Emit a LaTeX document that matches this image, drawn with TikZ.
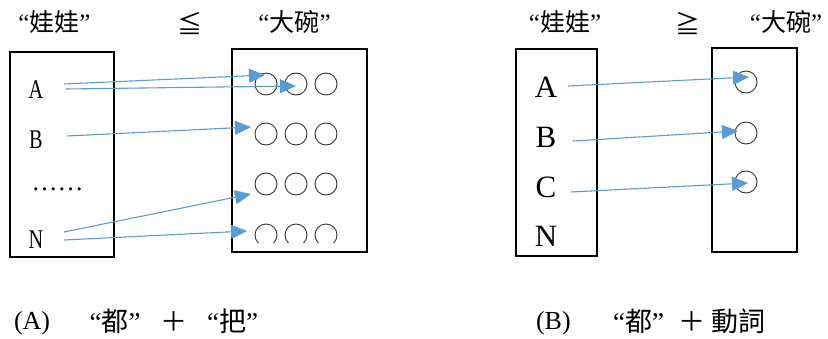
\documentclass[tikz,border=0pt]{standalone}
\usepackage{fontspec}
\setmainfont{Liberation Serif}
\newfontfamily\cjk{Noto Sans CJK TC}
\usetikzlibrary{arrows.meta}
\definecolor{arrowblue}{RGB}{91,155,213}
\begin{document}
\begin{tikzpicture}[x=1pt,y=-1pt,
  box/.style={draw=black,line width=1.1pt},
  bowl/.style={circle,draw=black!80,line width=0.9pt,minimum size=22pt,inner sep=0pt},
  link/.style={arrowblue,line width=1.1pt,-{Triangle[length=16pt,width=14pt]}},
  txt/.style={inner sep=0pt,outer sep=0pt},
  title/.style={txt,font=\fontsize{25}{25}\selectfont},
  letterL/.style={txt,anchor=base,font=\fontsize{27}{27}\selectfont},
  letterR/.style={txt,anchor=base,font=\fontsize{31}{31}\selectfont},
  captext/.style={txt,anchor=base,font=\fontsize{27}{27}\selectfont},
  capmark/.style={txt,anchor=base west,font=\fontsize{26}{26}\selectfont},
]
\useasboundingbox (0,0) rectangle (828,338);
\fill[white] (0,0) rectangle (828,338);

% ---------- (A) ----------
\node[title] (tA1) at (54.5,22) {“{\cjk 娃娃}”};
\node[title] (tA2) at (190,23) {\cjk ≦};
\node[title] (tA3) at (294.5,22) {“{\cjk 大碗}”};

\draw[box] (10,52) rectangle (114,257);
\draw[box] (232,49) rectangle (367,252);

\node[letterL] (LA) at (36,98) {\scalebox{0.75}[1]{A}};
\node[letterL] (LB) at (36,148) {\scalebox{0.75}[1]{B}};
\node[txt,anchor=base,font=\fontsize{26}{26}\selectfont] (Ldots) at (57.5,190) {……};
\node[letterL] (LN) at (36,248) {\scalebox{0.75}[1]{N}};

\foreach \r/\y in {1/84,2/134,3/184}{
  \foreach \c/\x in {1/266,2/296,3/326}{
    \node[bowl] (b\r\c) at (\x,\y) {};
  }
}
\begin{scope}
  \clip (232,0) rectangle (367,242);
  \foreach \c/\x in {1/266,2/296,3/326}{
    \node[bowl] (b4\c) at (\x,235) {};
  }
\end{scope}

\coordinate (a1s) at (64,84);  \coordinate (a1e) at (265,75);
\coordinate (a2s) at (66,89);  \coordinate (a2e) at (296,86);
\coordinate (bs) at (67,136);  \coordinate (be) at (251,127);
\coordinate (n1s) at (64,232); \coordinate (n1e) at (251,194);
\coordinate (n2s) at (64,240); \coordinate (n2e) at (247,231);
\draw[link] (a1s) -- (a1e);
\draw[link] (a2s) -- (a2e);
\draw[link] (bs) -- (be);
\draw[link] (n1s) -- (n1e);
\draw[link] (n2s) -- (n2e);

\node[capmark] (cA0) at (14,329) {(A)};
\node[captext] (cA1) at (115,331) {“{\cjk 都}”};
\node[captext] (cA2) at (173.5,331) {\cjk ＋};
\node[captext] (cA3) at (232.5,331) {“{\cjk 把}”};

% ---------- (B) ----------
\node[title] (tB1) at (565,22) {“{\cjk 娃娃}”};
\node[title] (tB2) at (688,23) {\cjk ≧};
\node[title] (tB3) at (786,22) {“{\cjk 大碗}”};

\draw[box] (516,49) rectangle (597,256);
\draw[box] (712,48) rectangle (797,252);

\node[letterR] (RA) at (546,97) {A};
\node[letterR] (RB) at (546,147) {B};
\node[letterR] (RC) at (546,197) {C};
\node[letterR] (RN) at (546,246) {N};

\node[bowl] (c1) at (746,82) {};
\node[bowl] (c2) at (746,133) {};
\node[bowl] (c3) at (746,182) {};

\coordinate (ras) at (568,86);  \coordinate (rae) at (749,77);
\coordinate (rbs) at (573,141); \coordinate (rbe) at (738,131);
\coordinate (rcs) at (571,192); \coordinate (rce) at (748,183);
\draw[link] (ras) -- (rae);
\draw[link] (rbs) -- (rbe);
\draw[link] (rcs) -- (rce);

\node[capmark] (cB0) at (536,329) {(B)};
\node[captext] (cB1) at (638.5,331) {“{\cjk 都}”};
\node[captext] (cB2) at (691.5,331) {\cjk ＋};
\node[captext] (cB3) at (738.5,331) {\cjk 動詞};
\end{tikzpicture}
\end{document}
